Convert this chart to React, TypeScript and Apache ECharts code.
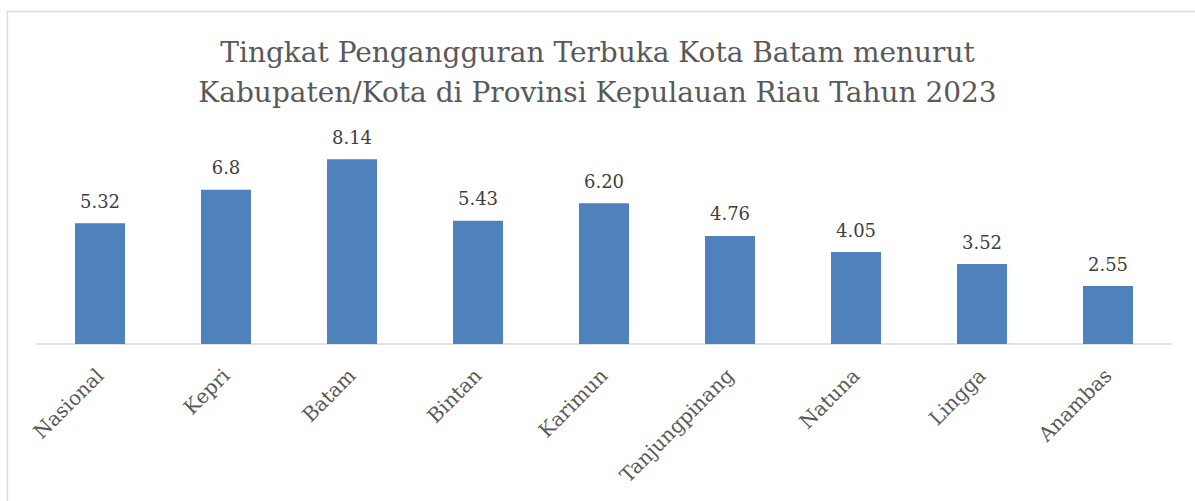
import React, { useEffect, useRef } from "react";
import * as echarts from "echarts";

const categories = ["Nasional", "Kepri", "Batam", "Bintan", "Karimun", "Tanjungpinang", "Natuna", "Lingga", "Anambas"];
const values = [5.32, 6.8, 8.14, 5.43, 6.2, 4.76, 4.05, 3.52, 2.55];
const valueLabels = ["5.32", "6.8", "8.14", "5.43", "6.20", "4.76", "4.05", "3.52", "2.55"];
const titleLines = [
  "Tingkat Pengangguran Terbuka Kota Batam menurut",
  "Kabupaten/Kota di Provinsi Kepulauan Riau Tahun 2023",
];

const FONT = "'DejaVu Serif', serif";

export default function App() {
  const ref = useRef<HTMLDivElement>(null);
  useEffect(() => {
    if (!ref.current) return;
    const chart = echarts.init(ref.current, undefined, { renderer: "svg" });
    chart.setOption({
      animation: false,
      backgroundColor: "#ffffff",
      title: {
        text: titleLines.join("\n"),
        left: "center",
        top: 27,
        textStyle: {
          fontFamily: FONT,
          fontSize: 28,
          fontWeight: "normal",
          color: "#595959",
          lineHeight: 40,
        },
      },
      graphic: [
        {
          type: "rect",
          shape: { x: 7.5, y: 11.5, width: 1300, height: 700 },
          style: { fill: "none", stroke: "#d9d9d9", lineWidth: 1.5 },
          silent: true,
        },
      ],
      grid: { left: 37, right: 24, top: 117, bottom: 157 },
      xAxis: {
        type: "category",
        data: categories,
        axisLine: { show: true, lineStyle: { color: "#d9d9d9", width: 1.5 } },
        axisTick: { show: false },
        axisLabel: {
          rotate: 45,
          interval: 0,
          margin: 28,
          fontFamily: FONT,
          fontSize: 20,
          color: "#595959",
        },
      },
      yAxis: {
        type: "value",
        min: 0,
        max: 10,
        show: false,
        splitLine: { show: false },
      },
      series: [
        {
          type: "bar",
          data: values,
          barWidth: 50,
          itemStyle: { color: "#4f81bd" },
          label: {
            show: true,
            position: "top",
            distance: 13,
            fontFamily: FONT,
            fontSize: 18,
            color: "#404040",
            formatter: (p: any) => valueLabels[p.dataIndex],
          },
        },
      ],
    });
    return () => chart.dispose();
  }, []);
  return (
    <div
      ref={ref}
      style={{ position: "fixed", left: 0, top: 0, width: 1195, height: 501 }}
    />
  );
}
